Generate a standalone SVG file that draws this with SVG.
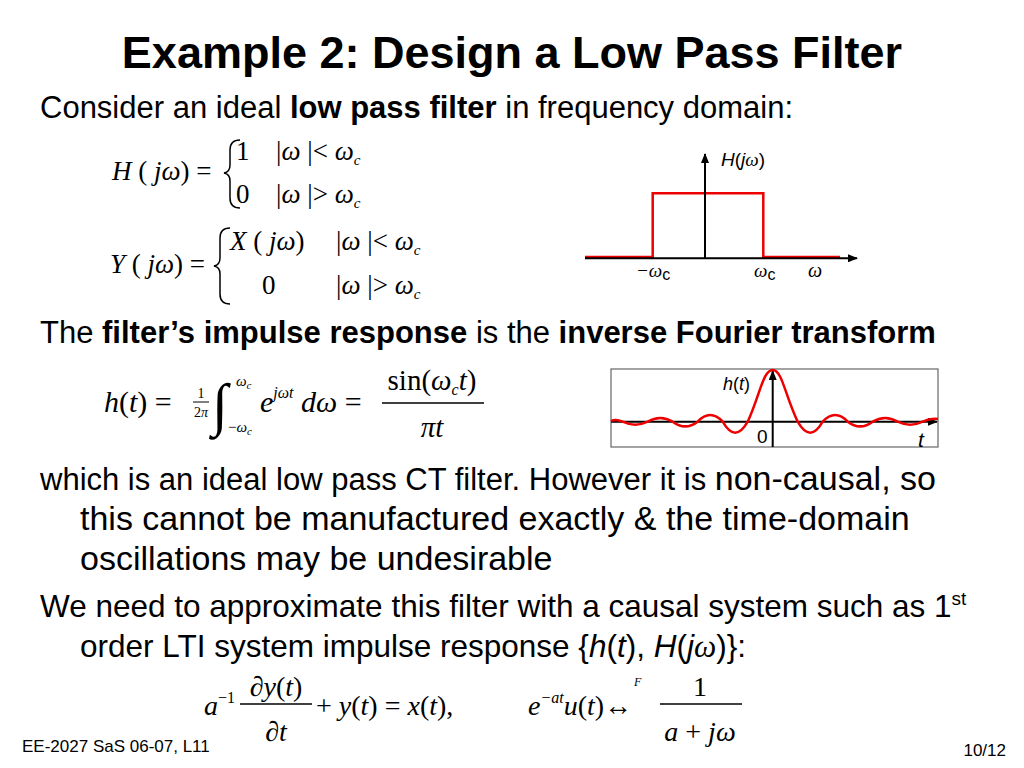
<svg xmlns="http://www.w3.org/2000/svg" width="1024" height="768" viewBox="0 0 1024 768">
<style>
.s{font-family:"Liberation Sans",Arial,sans-serif;fill:#000}
.m{font-family:"Liberation Serif","Times New Roman",serif;fill:#000}
.i{font-style:italic}
.ax{stroke:#000;stroke-width:2;fill:none}
.red{stroke:#e00;stroke-width:2.5;fill:none}
</style>
<defs><marker id="ar" markerWidth="10" markerHeight="8" refX="9" refY="4" orient="auto" markerUnits="userSpaceOnUse"><path d="M0,0 L10,4 L0,8 Z" fill="#000"/></marker></defs>
<rect width="1024" height="768" fill="#fff"/>
<text class="s" x="512" y="68" font-size="45" font-weight="bold" text-anchor="middle">Example 2: Design a Low Pass Filter</text>
<text class="s" x="40" y="118" font-size="31">Consider an ideal <tspan font-weight="bold">low pass filter</tspan> in frequency domain:</text>
<!-- H eq -->
<text class="m" x="112" y="180" font-size="27"><tspan class="i">H</tspan> ( <tspan class="i">jω</tspan>) =</text>
<path d="M240,140 Q230,140 230,150 L230,165 Q230,172 224,173 Q230,174 230,181 L230,198 Q230,208 240,208" stroke="#000" stroke-width="1.5" fill="none"/>
<text class="m" x="236" y="160" font-size="27">1</text>
<text class="m" x="276" y="160" font-size="27">|<tspan class="i">ω</tspan> |&lt; <tspan class="i">ω</tspan><tspan class="i" font-size="15" dy="5">c</tspan></text>
<text class="m" x="236" y="203" font-size="27">0</text>
<text class="m" x="276" y="203" font-size="27">|<tspan class="i">ω</tspan> |&gt; <tspan class="i">ω</tspan><tspan class="i" font-size="15" dy="5">c</tspan></text>
<!-- Y eq -->
<text class="m" x="110" y="273" font-size="27"><tspan class="i">Y</tspan> ( <tspan class="i">jω</tspan>) =</text>
<path d="M230,228 Q220,228 220,238 L220,258 Q220,265 214,266 Q220,267 220,274 L220,294 Q220,304 230,304" stroke="#000" stroke-width="1.5" fill="none"/>
<text class="m" x="230" y="250" font-size="27"><tspan class="i">X</tspan> ( <tspan class="i">jω</tspan>)</text>
<text class="m" x="336" y="250" font-size="27">|<tspan class="i">ω</tspan> |&lt; <tspan class="i">ω</tspan><tspan class="i" font-size="15" dy="5">c</tspan></text>
<text class="m" x="262" y="294" font-size="27">0</text>
<text class="m" x="336" y="294" font-size="27">|<tspan class="i">ω</tspan> |&gt; <tspan class="i">ω</tspan><tspan class="i" font-size="15" dy="5">c</tspan></text>
<!-- H plot -->
<path class="red" d="M585,257 L652.7,257 L652.7,193.3 L763.3,193.3 L763.3,257 L840,257"/>
<line class="ax" x1="585" y1="258.3" x2="857" y2="258.3" marker-end="url(#ar)"/>
<line class="ax" x1="705" y1="258.3" x2="705" y2="154" marker-end="url(#ar)"/>
<text class="s" x="721" y="166" font-size="19"><tspan class="i">H</tspan>(<tspan class="i">j</tspan><tspan class="m i">ω</tspan>)</text>
<text class="s" x="636" y="277" font-size="19"><tspan class="m" font-style="italic">−ω</tspan><tspan font-size="16" dy="3">c</tspan></text>
<text class="s" x="754" y="277" font-size="19"><tspan class="m" font-style="italic">ω</tspan><tspan font-size="16" dy="3">c</tspan></text>
<text class="m i" x="808" y="277" font-size="20">ω</text>
<!-- impulse response line -->
<text class="s" x="40" y="343" font-size="31">The <tspan font-weight="bold">filter’s impulse response</tspan> is the <tspan font-weight="bold">inverse Fourier transform</tspan></text>
<text class="m" x="104" y="412" font-size="30"><tspan class="i">h</tspan>(<tspan class="i">t</tspan>) =</text>
<text class="m" x="201" y="398" font-size="14" text-anchor="middle">1</text>
<line x1="193" y1="402" x2="209" y2="402" stroke="#000" stroke-width="1"/>
<text class="m" x="201" y="417" font-size="14" text-anchor="middle">2<tspan class="i">π</tspan></text>
<text class="m" x="212" y="424" font-size="58">∫</text>
<text class="m i" x="236" y="386" font-size="15">ω<tspan font-size="11" dy="3">c</tspan></text>
<text class="m" x="228" y="432" font-size="15">−<tspan class="i">ω</tspan><tspan class="i" font-size="11" dy="3">c</tspan></text>
<text class="m" x="260" y="412" font-size="30"><tspan class="i">e</tspan><tspan class="i" font-size="16" dy="-14">jωt</tspan><tspan class="i" dy="14"> dω</tspan> =</text>
<text class="m" x="432" y="390" font-size="29" text-anchor="middle">sin(<tspan class="i">ω</tspan><tspan class="i" font-size="16" dy="5">c</tspan><tspan class="i" dy="-5">t</tspan>)</text>
<line x1="382" y1="403" x2="484" y2="403" stroke="#000" stroke-width="1.3"/>
<text class="m i" x="432" y="437" font-size="29" text-anchor="middle">πt</text>
<!-- sinc plot -->
<rect x="611" y="369" width="327" height="78" fill="none" stroke="#666" stroke-width="1.2"/>
<line class="ax" x1="611" y1="421.7" x2="937" y2="421.7" stroke-width="1.5" marker-end="url(#ar)"/>
<line class="ax" x1="772.7" y1="447" x2="772.7" y2="371" stroke-width="1.5" marker-end="url(#ar)"/>
<path class="red" stroke-width="1.5" d="M611,421 Q616,418.5 622.7,421.7 Q635.2,427.7 647.7,421.7 Q660.2,414.3 672.7,421.7 Q685.2,431.1 697.7,421.7 Q710.2,408.5 722.7,421.7 Q735.2,443.7 747.7,421.7 C760,395 763,370 772.7,370 C782,370 785,395 797.7,421.7 Q810.2,443.7 822.7,421.7 Q835.2,408.5 847.7,421.7 Q860.2,431.1 872.7,421.7 Q885.2,414.3 897.7,421.7 Q910.2,427.7 922.7,421.7 Q930,418 938,419"/>
<text class="s" x="723" y="390" font-size="18"><tspan class="i">h</tspan>(<tspan class="i">t</tspan>)</text>
<text class="s" x="757" y="443" font-size="19">0</text>
<text class="s i" x="918" y="447" font-size="21">t</text>
<!-- paragraph -->
<text class="s" x="40" y="490" font-size="31">which is an ideal low pass CT filter.  However it is <tspan font-size="34">non-causal, so</tspan></text>
<text class="s" x="80" y="530" font-size="34">this cannot be manufactured exactly &amp; the time-domain</text>
<text class="s" x="80" y="570" font-size="34">oscillations may be undesirable</text>
<text class="s" x="40" y="617" font-size="31.5">We need to approximate this filter with a causal system such as 1<tspan font-size="19" dy="-12">st</tspan></text>
<text class="s" x="80" y="657" font-size="31.5">order LTI system impulse response {<tspan class="i">h</tspan>(<tspan class="i">t</tspan>), <tspan class="i">H</tspan>(<tspan class="i">j</tspan><tspan class="m i">ω</tspan>)}:</text>
<!-- bottom equations -->
<text class="m" x="204" y="715" font-size="28"><tspan class="i">a</tspan><tspan font-size="16" dy="-12">−1</tspan></text>
<text class="m" x="276" y="696" font-size="28" text-anchor="middle">∂<tspan class="i">y</tspan>(<tspan class="i">t</tspan>)</text>
<line x1="240" y1="704" x2="312" y2="704" stroke="#000" stroke-width="1.3"/>
<text class="m" x="276" y="741" font-size="28" text-anchor="middle">∂<tspan class="i">t</tspan></text>
<text class="m" x="316" y="715" font-size="28">+ <tspan class="i">y</tspan>(<tspan class="i">t</tspan>) = <tspan class="i">x</tspan>(<tspan class="i">t</tspan>),</text>
<text class="m" x="528" y="715" font-size="28"><tspan class="i">e</tspan><tspan class="i" font-size="16" dy="-12">−at</tspan><tspan class="i" dy="12">u</tspan>(<tspan class="i">t</tspan>)↔</text>
<text class="m i" x="634" y="686" font-size="12">F</text>
<text class="m" x="700" y="696" font-size="28" text-anchor="middle">1</text>
<line x1="660" y1="704" x2="742" y2="704" stroke="#000" stroke-width="1.3"/>
<text class="m" x="700" y="741" font-size="28" text-anchor="middle"><tspan class="i">a</tspan> + <tspan class="i">jω</tspan></text>
<text class="s" x="22" y="752" font-size="17">EE-2027 SaS 06-07, L11</text>
<text class="s" x="1006" y="756" font-size="17" text-anchor="end">10/12</text>
</svg>
